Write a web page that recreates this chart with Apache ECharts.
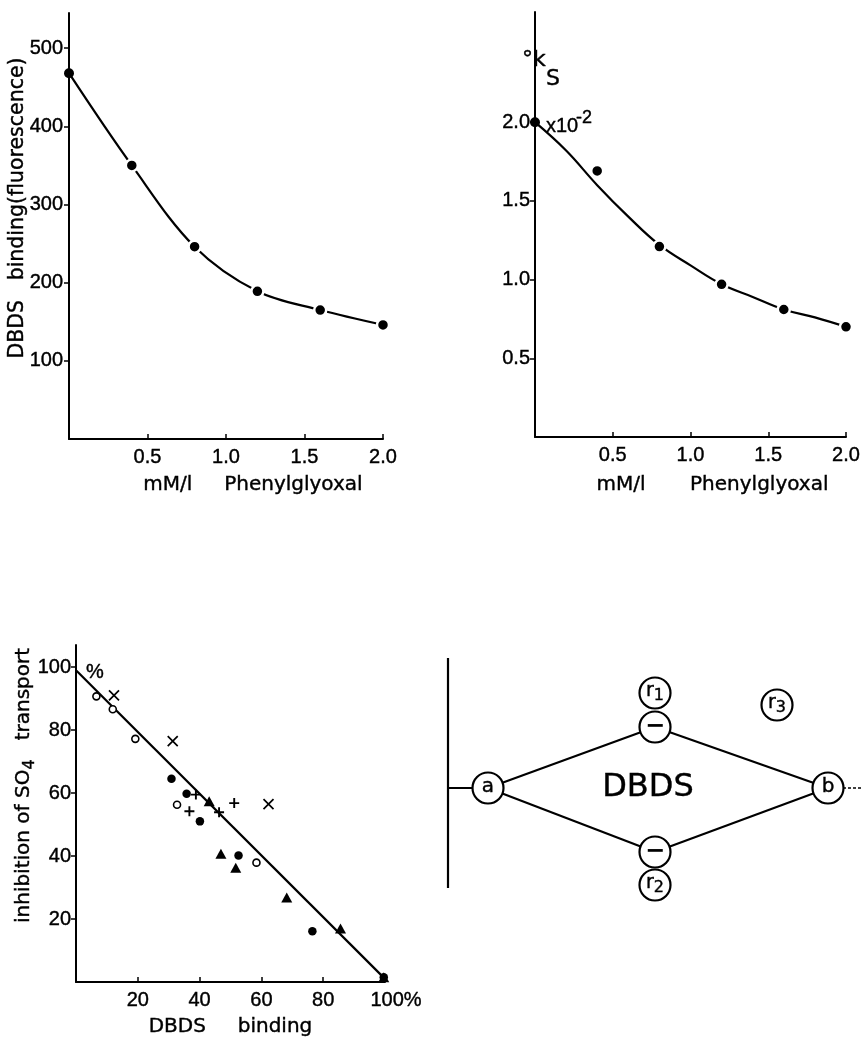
<!DOCTYPE html>
<html>
<head>
<meta charset="utf-8">
<script src="https://cdn.jsdelivr.net/npm/echarts@6/dist/echarts.min.js"></script>
<style>
  html, body { margin: 0; padding: 0; background: #fff; }
  #chart { width: 862px; height: 1037px; }
</style>
</head>
<body>
<div id="chart"></div>
<script>
// Upper left: DBDS binding against phenylglyoxal concentration (mM/l)
const phenylglyoxalMM = [0, 0.4, 0.8, 1.2, 1.6, 2.0];
const dbdsFluorescence = [468, 350, 246, 189, 165, 146];

// Upper right: rate constant °kS (x10^-2) at the same concentrations, with its fitted curve
const ksValues = [2.0, 1.69, 1.21, 0.97, 0.81, 0.70];
const ksFitX = [0, 0.2, 0.4, 0.6, 0.8, 1.0, 1.2, 1.4, 1.6, 1.8, 2.0];
const ksFitY = [2.0, 1.82, 1.60, 1.40, 1.22, 1.09, 0.97, 0.89, 0.81, 0.76, 0.70];

// Lower left: inhibition of SO4 transport (%) against DBDS binding (%), one array per marker type
const openCircles = [[6.6, 90.7], [11.9, 86.6], [19.2, 77.2], [32.7, 56.3], [58.4, 37.9]];
const crosses = [[12.3, 91.0], [31.3, 76.5], [62.3, 56.5]];
const filledCircles = [[30.9, 64.5], [35.8, 59.8], [40.1, 51.0], [52.6, 40.2], [76.5, 16.1], [99.6, 1.5]];
const pluses = [[38.8, 59.5], [36.7, 54.2], [46.3, 53.9], [51.2, 56.8]];
const triangles = [[43.1, 57.4], [46.9, 40.7], [51.7, 36.3], [68.2, 26.8], [85.6, 17.0], [99.6, 1.5]];
const regressionLine = [[0, 99], [100, 1]];

// Tick labels
const concTicks = [0.5, 1.0, 1.5, 2.0];
const fluorTicks = [100, 200, 300, 400, 500];
const ksTicks = [0.5, 1.0, 1.5, 2.0];
const percentTicks = [20, 40, 60, 80, 100];

// Lower right: reaction scheme (a and b joined through the two DBDS sites)
const schemeLayout = {
  circles: [
    { key: 'a', at: [48, 148] },
    { key: 'b', at: [388, 148] },
    { key: 'minus', at: [215, 87] },
    { key: 'minus', at: [215, 212] },
    { key: 'r1', at: [215, 53] },
    { key: 'r2', at: [215, 245] },
    { key: 'r3', at: [337, 65] }
  ],
  edges: [
    { from: [8, 18], to: [8, 248] },
    { from: [8, 148], to: [48, 148] },
    { from: [48, 148], to: [215, 87] },
    { from: [48, 148], to: [215, 212] },
    { from: [215, 87], to: [388, 148] },
    { from: [215, 212], to: [388, 148] },
    { from: [388, 148], to: [422, 148], dashed: true }
  ],
  centreText: { text: 'DBDS', at: [208, 148] }
};

const INK = '#000';
const FONT_NUM = "'Liberation Sans', Arial, sans-serif";
const FONT_TXT = "'DejaVu Sans', 'Liberation Sans', sans-serif";
// a thin outline in the text colour gives the lettering a slightly heavier stroke
const HEAVY = { textBorderColor: INK, textBorderWidth: 0.4 };

function zip(xs, ys) { return xs.map((x, i) => [x, ys[i]]); }

function valueAxis(o) {
  return {
    type: 'value',
    gridIndex: o.grid,
    min: o.min,
    max: o.max,
    axisLine: { show: true, onZero: false, lineStyle: { color: INK, width: 2 } },
    axisTick: {
      show: true, inside: o.tickInside, length: 5,
      customValues: o.ticks, lineStyle: { color: INK, width: 1.5 }
    },
    axisLabel: Object.assign({
      customValues: o.ticks, formatter: o.fmt, margin: o.margin,
      color: INK, fontFamily: FONT_NUM, fontSize: 20,
      rich: o.rich
    }, HEAVY),
    splitLine: { show: false },
    name: o.name,
    nameLocation: 'middle',
    nameGap: o.nameGap,
    nameMoveOverlap: false,
    nameTextStyle: Object.assign({ color: INK, fontFamily: FONT_TXT, fontSize: 20 }, HEAVY, o.nameStyle || {})
  };
}

const fixed1 = v => v.toFixed(1);

function note(text, left, top, size, family) {
  return {
    text, left, top,
    textStyle: Object.assign({ color: INK, fontFamily: family || FONT_NUM, fontSize: size, fontWeight: 'normal' }, HEAVY)
  };
}

const option = {
  backgroundColor: '#fff',
  animation: false,
  title: [
    note('%', 81, 657, 20),
    note('x10', 541, 111, 20),
    note('-2', 571, 104, 18),
    note('°k', 517, 44, 22, FONT_TXT),
    note('S', 541, 63, 22, FONT_TXT)
  ],
  grid: [
    { left: 69, top: 13, width: 314, height: 426, outerBoundsMode: 'none' },
    { left: 535, top: 12, width: 311, height: 425, outerBoundsMode: 'none' },
    { left: 76, top: 645, width: 309, height: 337, outerBoundsMode: 'none' },
    { left: 440, top: 640, width: 422, height: 270, outerBoundsMode: 'none' }
  ],
  xAxis: [
    valueAxis({ grid: 0, min: 0, max: 2, ticks: concTicks, fmt: fixed1, margin: 8, tickInside: true,
      name: 'mM/l     Phenylglyoxal', nameGap: 36, nameStyle: { padding: [0, 0, 0, 54] } }),
    valueAxis({ grid: 1, min: 0, max: 2, ticks: concTicks, fmt: fixed1, margin: 8, tickInside: true,
      name: 'mM/l       Phenylglyoxal', nameGap: 38, nameStyle: { padding: [0, 0, 0, 44] } }),
    valueAxis({ grid: 2, min: 0, max: 100, ticks: percentTicks, margin: 8, tickInside: true,
      fmt: v => (v === 100 ? '{p|100%}' : String(v)),
      rich: { p: Object.assign({ fontFamily: FONT_NUM, fontSize: 20, color: INK, padding: [0, 0, 0, 22] }, HEAVY) },
      name: 'DBDS     binding', nameGap: 35 }),
    { type: 'value', gridIndex: 3, min: 0, max: 422, show: false }
  ],
  yAxis: [
    valueAxis({ grid: 0, min: 0, max: 545, ticks: fluorTicks, fmt: v => String(v), margin: 6, tickInside: false,
      name: 'DBDS   binding(fluorescence)', nameGap: 41, nameStyle: { fontSize: 20.5, padding: [0, 0, 0, 36] } }),
    valueAxis({ grid: 1, min: 0, max: 2.7, ticks: ksTicks, fmt: fixed1, margin: 5, tickInside: false,
      name: '' }),
    valueAxis({ grid: 2, min: 0, max: 107, ticks: percentTicks, fmt: v => String(v), margin: 5, tickInside: false,
      name: 'inhibition of SO{s|4}   transport', nameGap: 38,
      nameStyle: { padding: [0, 0, 0, 56],
        rich: { s: Object.assign({ fontFamily: FONT_TXT, fontSize: 16, color: INK, padding: [12, 0, 0, 0] }, HEAVY) } } }),
    { type: 'value', gridIndex: 3, min: 0, max: 270, inverse: true, show: false }
  ],
  series: [
    {
      type: 'line', xAxisIndex: 0, yAxisIndex: 0,
      data: zip(phenylglyoxalMM, dbdsFluorescence).map((p, i) => ({
        value: p, symbolSize: i === 0 ? 10 : 12,
        itemStyle: i === 0 ? { borderWidth: 0 } : undefined
      })),
      smooth: 0.35, symbol: 'circle', showAllSymbol: true,
      lineStyle: { color: INK, width: 2.2 },
      itemStyle: { color: INK, borderColor: '#fff', borderWidth: 2.5 },
      z: 3
    },
    {
      type: 'line', xAxisIndex: 1, yAxisIndex: 1,
      data: zip(ksFitX, ksFitY), smooth: 0.4, showSymbol: false,
      lineStyle: { color: INK, width: 2.2 }, z: 2
    },
    {
      type: 'scatter', xAxisIndex: 1, yAxisIndex: 1,
      data: zip(phenylglyoxalMM, ksValues).map((p, i) => ({
        value: p, symbolSize: i === 0 ? 10 : 12,
        itemStyle: i === 0 ? { borderWidth: 0 } : undefined
      })),
      symbol: 'circle',
      itemStyle: { color: INK, borderColor: '#fff', borderWidth: 2.5, opacity: 1 },
      z: 3
    },
    {
      type: 'line', xAxisIndex: 2, yAxisIndex: 2, data: regressionLine,
      showSymbol: false, lineStyle: { color: INK, width: 2.2 }, z: 2
    },
    {
      type: 'scatter', xAxisIndex: 2, yAxisIndex: 2, data: openCircles,
      symbol: 'circle', symbolSize: 7,
      itemStyle: { color: '#fff', borderColor: INK, borderWidth: 1.6, opacity: 1 }, z: 4
    },
    {
      type: 'scatter', xAxisIndex: 2, yAxisIndex: 2, data: crosses,
      symbol: 'path://M0,0L10,10M10,0L0,10', symbolSize: 10,
      itemStyle: { color: 'rgba(0,0,0,0)', borderColor: INK, borderWidth: 1.7, opacity: 1 }, z: 4
    },
    {
      type: 'scatter', xAxisIndex: 2, yAxisIndex: 2, data: pluses,
      symbol: 'path://M5,0L5,10M0,5L10,5', symbolSize: 10,
      itemStyle: { color: 'rgba(0,0,0,0)', borderColor: INK, borderWidth: 1.9, opacity: 1 }, z: 4
    },
    {
      type: 'scatter', xAxisIndex: 2, yAxisIndex: 2, data: filledCircles,
      symbol: 'circle', symbolSize: 8.5,
      itemStyle: { color: INK, opacity: 1 }, z: 4
    },
    {
      type: 'scatter', xAxisIndex: 2, yAxisIndex: 2, data: triangles,
      symbol: 'triangle', symbolSize: [11, 10],
      itemStyle: { color: INK, opacity: 1 }, z: 4
    },
    {
      type: 'lines', coordinateSystem: 'cartesian2d', xAxisIndex: 3, yAxisIndex: 3,
      data: schemeLayout.edges.map(e => ({
        coords: [e.from, e.to],
        lineStyle: e.dashed ? { type: [3, 2], width: 1.5 } : undefined
      })),
      lineStyle: { color: INK, width: 2.2, opacity: 1, curveness: 0 },
      z: 2
    },
    {
      type: 'scatter', xAxisIndex: 3, yAxisIndex: 3,
      data: schemeLayout.circles.map(c => ({ name: c.key, value: c.at })),
      symbol: 'circle', symbolSize: 31,
      itemStyle: { color: '#fff', borderColor: INK, borderWidth: 2.2, opacity: 1 },
      label: {
        show: true, position: 'inside', color: INK,
        fontFamily: FONT_TXT, fontSize: 20,
        formatter: p => {
          const k = p.name;
          if (k === 'minus') return '{m|\u2212}';
          if (k.charAt(0) === 'r') return '{r|r}{n|' + k.slice(1) + '}';
          return '{t|' + k + '}';
        },
        rich: {
          t: Object.assign({ fontFamily: FONT_TXT, fontSize: 20, color: INK, padding: [0, 0, 2, 0] }, HEAVY),
          m: { fontFamily: FONT_TXT, fontSize: 24, fontWeight: 'bold', color: INK },
          r: Object.assign({ fontFamily: FONT_TXT, fontSize: 19, color: INK, padding: [0, 0, 4, 0] }, HEAVY),
          n: Object.assign({ fontFamily: FONT_TXT, fontSize: 16, color: INK, padding: [6, 0, 0, 0] }, HEAVY)
        }
      },
      z: 5
    },
    {
      type: 'scatter', xAxisIndex: 3, yAxisIndex: 3,
      data: [{ name: schemeLayout.centreText.text, value: schemeLayout.centreText.at }],
      symbolSize: 1, itemStyle: { color: 'rgba(0,0,0,0)', opacity: 1 },
      label: Object.assign({
        show: true, position: 'inside', formatter: p => p.name,
        color: INK, fontFamily: FONT_TXT, fontSize: 32
      }, HEAVY),
      z: 5
    }
  ]
};

const chart = echarts.init(document.getElementById('chart'));
chart.setOption(option);
</script>
</body>
</html>
